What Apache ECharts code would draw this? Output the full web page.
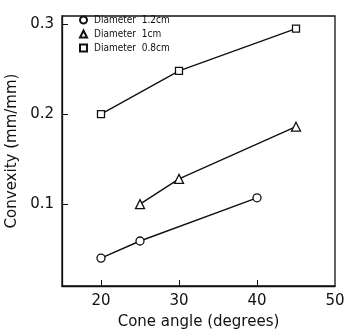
<!DOCTYPE html>
<html>
<head>
<meta charset="utf-8">
<script src="https://cdn.jsdelivr.net/npm/echarts@6/dist/echarts.min.js"></script>
<style>
  html, body { margin: 0; padding: 0; background: #fff; }
  #chart { width: 344px; height: 332px; }
</style>
</head>
<body>
<div id="chart"></div>
<script>
// values
const seriesNames = ["Diameter  1.2cm", "Diameter  1cm", "Diameter  0.8cm"]
const symbols = ["circle", "triangle", "rect"]
const d12X = [20, 25, 40]
const d12Y = [0.04, 0.059, 0.107]
const d10X = [25, 30, 45]
const d10Y = [0.1, 0.128, 0.186]
const d08X = [20, 30, 45]
const d08Y = [0.2, 0.248, 0.295]
const xTicks = [20, 30, 40, 50]
const yTicks = [0.1, 0.2, 0.3]

const font = "DejaVu Sans"
const pairs = (xs, ys) => xs.map((x, i) => [x, ys[i]])
const allData = [pairs(d12X, d12Y), pairs(d10X, d10Y), pairs(d08X, d08Y)]
const symSizes = [8, 9, 7]

const chart = echarts.init(document.getElementById("chart"))

chart.setOption({
  backgroundColor: "#fff",
  animation: false,
  textStyle: { fontFamily: font, color: "#111" },
  grid: {
    left: 62, right: 9, top: 16, bottom: 46,
    outerBoundsMode: "none", containLabel: false,
    show: true, borderColor: "#111", borderWidth: 1.3,
  },
  legend: {
    left: 74, top: 10, orient: "vertical",
    itemWidth: 7, itemHeight: 7, itemGap: 4,
    textStyle: { fontFamily: "Liberation Sans Narrow, DejaVu Sans Condensed, sans-serif", fontSize: 10, color: "#111", padding: [0, 0, 0, 2] },
    data: seriesNames.map((n, i) => ({ name: n, icon: symbols[i] })),
  },
  xAxis: {
    type: "value", min: 15, max: 50,
    name: "Cone angle (degrees)", nameLocation: "middle", nameGap: 29,
    nameTextStyle: { fontFamily: font, fontSize: 15, color: "#111" },
    axisLine: { lineStyle: { color: "#111", width: 1.3 } },
    axisTick: { inside: true, length: 6, customValues: [20, 30, 40], lineStyle: { color: "#111" } },
    axisLabel: { customValues: xTicks, fontSize: 15, color: "#111", margin: 8 },
    splitLine: { show: false },
  },
  yAxis: {
    type: "value", min: 0.009, max: 0.309,
    name: "Convexity (mm/mm)", nameLocation: "middle", nameGap: 37,
    nameTextStyle: { fontFamily: font, fontSize: 15, color: "#111" },
    axisLine: { lineStyle: { color: "#111", width: 1.3 } },
    axisTick: { inside: true, length: 6, customValues: yTicks, lineStyle: { color: "#111" } },
    axisLabel: { customValues: yTicks, fontSize: 15, color: "#111", margin: 8, formatter: v => v.toFixed(1) },
    splitLine: { show: false },
  },
  series: seriesNames.map((n, i) => ({
    name: n,
    type: "line",
    data: allData[i],
    symbol: symbols[i],
    symbolSize: symSizes[i],
    lineStyle: { color: "#111", width: 1.4 },
    itemStyle: { color: "#fff", borderColor: "#111", borderWidth: 1.3 },
  })),
})
</script>
</body>
</html>
